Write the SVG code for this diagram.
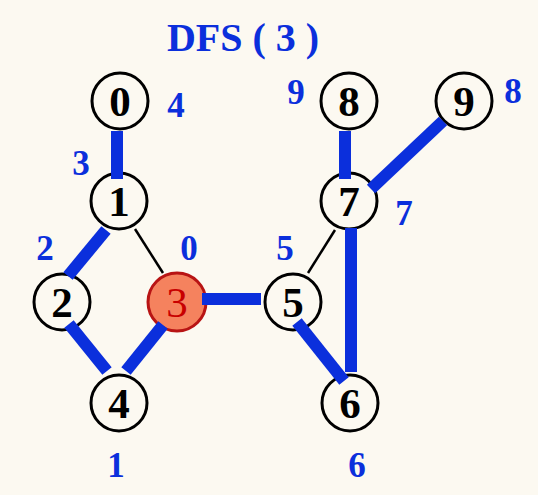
<svg xmlns="http://www.w3.org/2000/svg" width="538" height="495" viewBox="0 0 538 495">
<style>
.n{fill:#fcf9f1;stroke:#000;stroke-width:3}
.nt{font-family:"Liberation Serif",serif;font-weight:bold;font-size:43px;text-anchor:middle;fill:#000}
.lb{font-family:"Liberation Serif",serif;font-weight:bold;font-size:35px;text-anchor:middle;fill:#0b2fdc}
.t{stroke:#0b2fdc;stroke-width:12;fill:none}
.e{stroke:#000;stroke-width:2.5;fill:none}
</style>
<rect width="538" height="495" fill="#fcf9f1"/>
<text x="243" y="51" class="lb" style="font-size:40px">DFS ( 3 )</text>
<g id="n0"><circle cx="120" cy="101" r="28" class="n"/><text x="120" y="116" class="nt">0</text></g>
<g id="n1"><circle cx="119" cy="201" r="28" class="n"/><text x="119" y="216" class="nt">1</text></g>
<g id="n2"><circle cx="62" cy="302" r="28" class="n"/><text x="62" y="317" class="nt">2</text></g>
<g id="n3"><circle cx="177" cy="302" r="29" fill="#f5825e" stroke="#b81414" stroke-width="3"/><text x="177" y="317" class="nt" style="fill:#c80000;font-weight:normal">3</text></g>
<g id="n4"><circle cx="119" cy="403" r="28" class="n"/><text x="119" y="418" class="nt">4</text></g>
<g id="n5"><circle cx="293" cy="302" r="28" class="n"/><text x="293" y="317" class="nt">5</text></g>
<g id="n6"><circle cx="350" cy="403" r="28" class="n"/><text x="350" y="418" class="nt">6</text></g>
<g id="n7"><circle cx="349" cy="201" r="28" class="n"/><text x="349" y="216" class="nt">7</text></g>
<g id="n8"><circle cx="349" cy="101" r="28" class="n"/><text x="349" y="116" class="nt">8</text></g>
<g id="n9"><circle cx="464" cy="101" r="28" class="n"/><text x="464" y="116" class="nt">9</text></g>
<g id="connectors">
<line x1="117" y1="131" x2="117" y2="179" class="t"/>
<line x1="345" y1="131" x2="345" y2="179" class="t"/>
<line x1="443" y1="121" x2="371" y2="189" class="t"/>
<line x1="351" y1="228" x2="351" y2="372" class="t"/>
<line x1="297" y1="322" x2="344" y2="381" class="t"/>
<line x1="202" y1="299" x2="261" y2="299" class="t"/>
<line x1="106" y1="230" x2="68" y2="276" class="t"/>
<line x1="69" y1="324" x2="107" y2="371" class="t"/>
<line x1="163" y1="325" x2="126" y2="371" class="t"/>
<line x1="135" y1="229" x2="163" y2="273" class="e"/>
<line x1="308" y1="273" x2="335" y2="230" class="e"/>
</g>
<g id="labels">
<text x="176" y="117" class="lb">4</text>
<text x="81" y="175" class="lb">3</text>
<text x="45" y="260" class="lb">2</text>
<text x="189" y="260" class="lb">0</text>
<text x="116" y="477" class="lb">1</text>
<text x="296" y="104" class="lb">9</text>
<text x="513" y="103" class="lb">8</text>
<text x="404" y="225" class="lb">7</text>
<text x="285" y="260" class="lb">5</text>
<text x="357" y="477" class="lb">6</text>
</g>
</svg>
